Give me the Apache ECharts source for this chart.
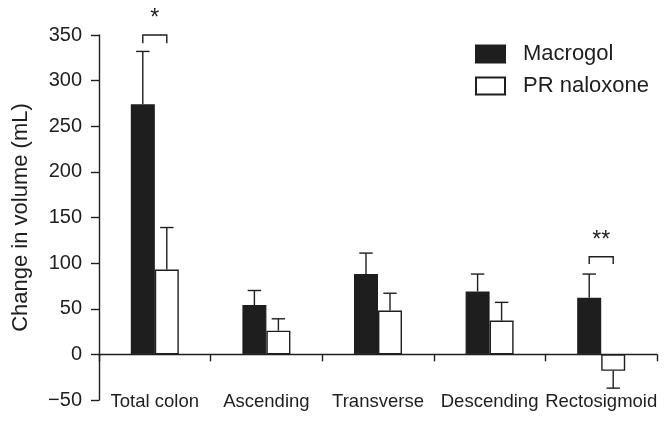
<!DOCTYPE html>
<html>
<head>
<meta charset="utf-8">
<script src="https://cdn.jsdelivr.net/npm/echarts@6/dist/echarts.min.js"></script>
<style>html,body{margin:0;padding:0;background:#fff;}#c{width:670px;height:422px;}</style>
</head>
<body>
<div id="c"></div>
<script>
const categories = ['Total colon', 'Ascending', 'Transverse', 'Descending', 'Rectosigmoid'];
const macrogol = [274, 54, 88, 69, 62];
const macrogolErr = [58, 16, 23, 19, 26];
const naloxone = [93, 26, 48, 37, -18];
const naloxoneErr = [46, 13, 19, 20, 19];
const seriesNames = ['Macrogol', 'PR naloxone'];
const yMin = -50, yMax = 350, yStep = 50;
const yAxisTitle = 'Change in volume (mL)';
// significance brackets: category index, bracket top value, leg end value, label, label value
const sigCategory = [0, 4];
const sigTop = [350, 107];
const sigLeg = [341, 99];
const sigLabel = ['*', '**'];
const sigLabelValue = [368, 125];

const BAR_FRAC = 0.215;
const INK = '#1e1e1e';
const FONT = 'Liberation Sans, Arial, sans-serif';

const chart = echarts.init(document.getElementById('c'), null, {renderer: 'canvas'});

function errData(vals, errs, side) {
  return vals.map((v, i) => [i, v, errs[i], side]);
}

function renderErr(params, api) {
  const ci = api.value(0), v = api.value(1), e = api.value(2), side = api.value(3);
  const base = api.coord([ci, v]);
  const end = api.coord([ci, v >= 0 ? v + e : v - e]);
  const bw = api.size([1, 0])[0] * BAR_FRAC;
  const x = base[0] + side * bw / 2;
  const cap = bw * 0.28;
  const st = {stroke: INK, lineWidth: 1.4};
  return {type: 'group', children: [
    {type: 'line', shape: {x1: x, y1: base[1], x2: x, y2: end[1]}, style: st},
    {type: 'line', shape: {x1: x - cap, y1: end[1], x2: x + cap, y2: end[1]}, style: st}
  ]};
}

function renderSig(params, api) {
  const ci = api.value(0), top = api.value(1), leg = api.value(2), lv = api.value(4);
  const idx = params.dataIndex;
  const c = api.coord([ci, top]);
  const l = api.coord([ci, leg]);
  const t = api.coord([ci, lv]);
  const bw = api.size([1, 0])[0] * BAR_FRAC;
  const x1 = c[0] - bw / 2, x2 = c[0] + bw / 2;
  const st = {stroke: INK, lineWidth: 1.4, fill: null};
  return {type: 'group', children: [
    {type: 'polyline', shape: {points: [[x1, l[1]], [x1, c[1]], [x2, c[1]], [x2, l[1]]]}, style: st},
    {type: 'text', x: c[0], y: t[1], style: {text: sigLabel[idx], fill: INK, font: '23px ' + FONT, align: 'center', verticalAlign: 'middle'}}
  ]};
}

const option = {
  animation: false,
  backgroundColor: '#fff',
  textStyle: {fontFamily: FONT, color: INK},
  grid: {left: 99, right: 13, top: 35, bottom: 22, containLabel: false},
  legend: {
    orient: 'vertical', left: 475, top: 43, padding: 0, itemWidth: 29, itemHeight: 17, itemGap: 10,
    icon: 'rect',
    data: seriesNames,
    textStyle: {fontSize: 22, color: INK, fontFamily: FONT, padding: [0, 0, 0, 13]}
  },
  xAxis: [
    {
      type: 'category', data: categories, gridIndex: 0,
      axisLine: {onZero: true, lineStyle: {color: INK, width: 1.4}},
      axisTick: {show: true, length: 7, lineStyle: {color: INK, width: 1.4}},
      axisLabel: {show: false},
      splitLine: {show: false}
    },
    {
      type: 'category', data: categories, gridIndex: 0, position: 'bottom',
      axisLine: {show: false, onZero: false},
      axisTick: {show: false},
      axisLabel: {show: true, fontSize: 18.5, color: INK, fontFamily: FONT, margin: 2, verticalAlign: 'middle', interval: 0},
      splitLine: {show: false}
    }
  ],
  yAxis: {
    type: 'value', min: yMin, max: yMax, interval: yStep,
    name: yAxisTitle, nameLocation: 'middle', nameGap: 67,
    nameTextStyle: {fontSize: 22, color: INK, fontFamily: FONT},
    axisLine: {show: true, lineStyle: {color: INK, width: 1.4}},
    axisTick: {show: true, length: 8, lineStyle: {color: INK, width: 1.4}},
    axisLabel: {fontSize: 20, color: INK, fontFamily: FONT, margin: 17,
      formatter: v => (v < 0 ? '\u2212' + Math.abs(v) : String(v))},
    splitLine: {show: false}
  },
  series: [
    {
      name: seriesNames[0], type: 'bar', xAxisIndex: 0, data: macrogol,
      barWidth: (BAR_FRAC * 100) + '%', barGap: '0%',
      itemStyle: {color: INK, borderColor: INK, borderWidth: 1.2}
    },
    {
      name: seriesNames[1], type: 'bar', xAxisIndex: 0, data: naloxone,
      barWidth: (BAR_FRAC * 100) + '%', barGap: '0%',
      itemStyle: {color: '#fff', borderColor: INK, borderWidth: 1.4}
    },
    {
      name: 'err1', type: 'custom', xAxisIndex: 0, renderItem: renderErr,
      data: errData(macrogol, macrogolErr, -1), encode: {x: 0, y: 1}, z: 3
    },
    {
      name: 'err2', type: 'custom', xAxisIndex: 0, renderItem: renderErr,
      data: errData(naloxone, naloxoneErr, 1), encode: {x: 0, y: 1}, z: 3
    },
    {
      name: 'sig', type: 'custom', xAxisIndex: 0, renderItem: renderSig, clip: false,
      data: sigCategory.map((c, i) => [c, sigTop[i], sigLeg[i], 0, sigLabelValue[i]]),
      encode: {x: 0, y: 1}, z: 3
    }
  ]
};
chart.setOption(option);
</script>
</body>
</html>
